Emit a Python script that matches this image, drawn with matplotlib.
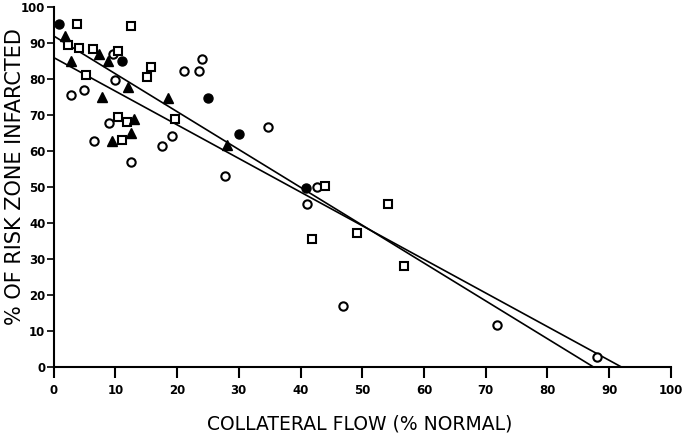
import numpy as np
import matplotlib
matplotlib.use("Agg")
import matplotlib.pyplot as plt

# points (collateral flow %, % of risk zone infarcted)
filled_circle_x = [0.8, 11.0, 25.0, 30.0, 40.9]
filled_circle_y = [95.2, 85.0, 74.8, 64.7, 49.6]

open_circle_x = [2.85, 4.9, 6.6, 9.0, 9.6, 9.9, 12.6, 17.6, 19.1, 21.1, 23.5, 24.1,
                 27.8, 34.7, 41.0, 42.7, 46.9, 71.9, 88.1]
open_circle_y = [75.5, 76.9, 62.7, 67.9, 86.9, 79.7, 56.9, 61.4, 64.3, 82.3, 82.3, 85.6,
                 53.0, 66.8, 45.2, 50.1, 16.8, 11.7, 2.8]

triangle_x = [1.8, 2.8, 7.4, 8.85, 12.0, 7.9, 13.0, 12.5, 9.45, 18.5, 28.1]
triangle_y = [92.1, 85.0, 86.9, 85.0, 77.9, 74.9, 68.8, 64.9, 62.9, 74.8, 61.6]

square_x = [3.8, 12.5, 2.25, 4.05, 6.3, 10.5, 5.2, 15.8, 15.2, 10.5, 11.9, 11.1,
            19.7, 44.0, 54.1, 41.8, 49.2, 56.8]
square_y = [95.3, 94.9, 89.4, 88.6, 88.5, 87.7, 81.1, 83.3, 80.7, 69.4, 68.2, 63.0,
            68.8, 50.2, 45.2, 35.6, 37.1, 28.1]

# two regression lines: (intercept, slope)
fit_lines = [(92.0, -1.052), (86.0, -0.935)]

xticks = list(range(0, 101, 10))
yticks = list(range(0, 101, 10))

plt.rcParams["font.family"] = ["DejaVu Sans"]

fig = plt.figure(figsize=(6.88, 4.48), dpi=100)
ax = fig.add_axes([0.078, 0.181, 0.897, 0.803])

ms = 6
ax.plot(open_circle_x, open_circle_y, "o", ms=ms, mfc="white", mec="black", mew=1.5, ls="none", zorder=3)
ax.plot(square_x, square_y, "s", ms=ms, mfc="white", mec="black", mew=1.5, ls="none", zorder=3)
ax.plot(filled_circle_x, filled_circle_y, "o", ms=ms + 0.5, color="black", ls="none", zorder=3)
ax.plot(triangle_x, triangle_y, "^", ms=ms + 1, color="black", ls="none", zorder=3)

for b, m in fit_lines:
    xs = np.array([0.0, -b / m])
    ax.plot(xs, b + m * xs, color="black", lw=1.2, zorder=2)

ax.set_xlim(0, 100)
ax.set_ylim(0, 100)
ax.set_xticks(xticks)
ax.set_yticks(yticks)
ax.spines["top"].set_visible(False)
ax.spines["right"].set_visible(False)
for s in ("left", "bottom"):
    ax.spines[s].set_linewidth(1.5)
ax.tick_params(axis="x", direction="out", length=8, width=1.5, labelsize=8.5, pad=4)
ax.tick_params(axis="y", direction="out", length=5, width=1.2, labelsize=8.5, pad=1)
for lab in ax.get_xticklabels() + ax.get_yticklabels():
    lab.set_fontweight("bold")

ax.set_xlabel("COLLATERAL FLOW (% NORMAL)", fontsize=13.5)
ax.set_ylabel("% OF RISK ZONE INFARCTED", fontsize=15)
ax.xaxis.set_label_coords(0.496, -0.16)
ax.yaxis.set_label_coords(-0.062, 0.53)
ax.xaxis.label.set_va("center")
ax.yaxis.label.set_va("center")

fig.savefig("out.png", dpi=100)
